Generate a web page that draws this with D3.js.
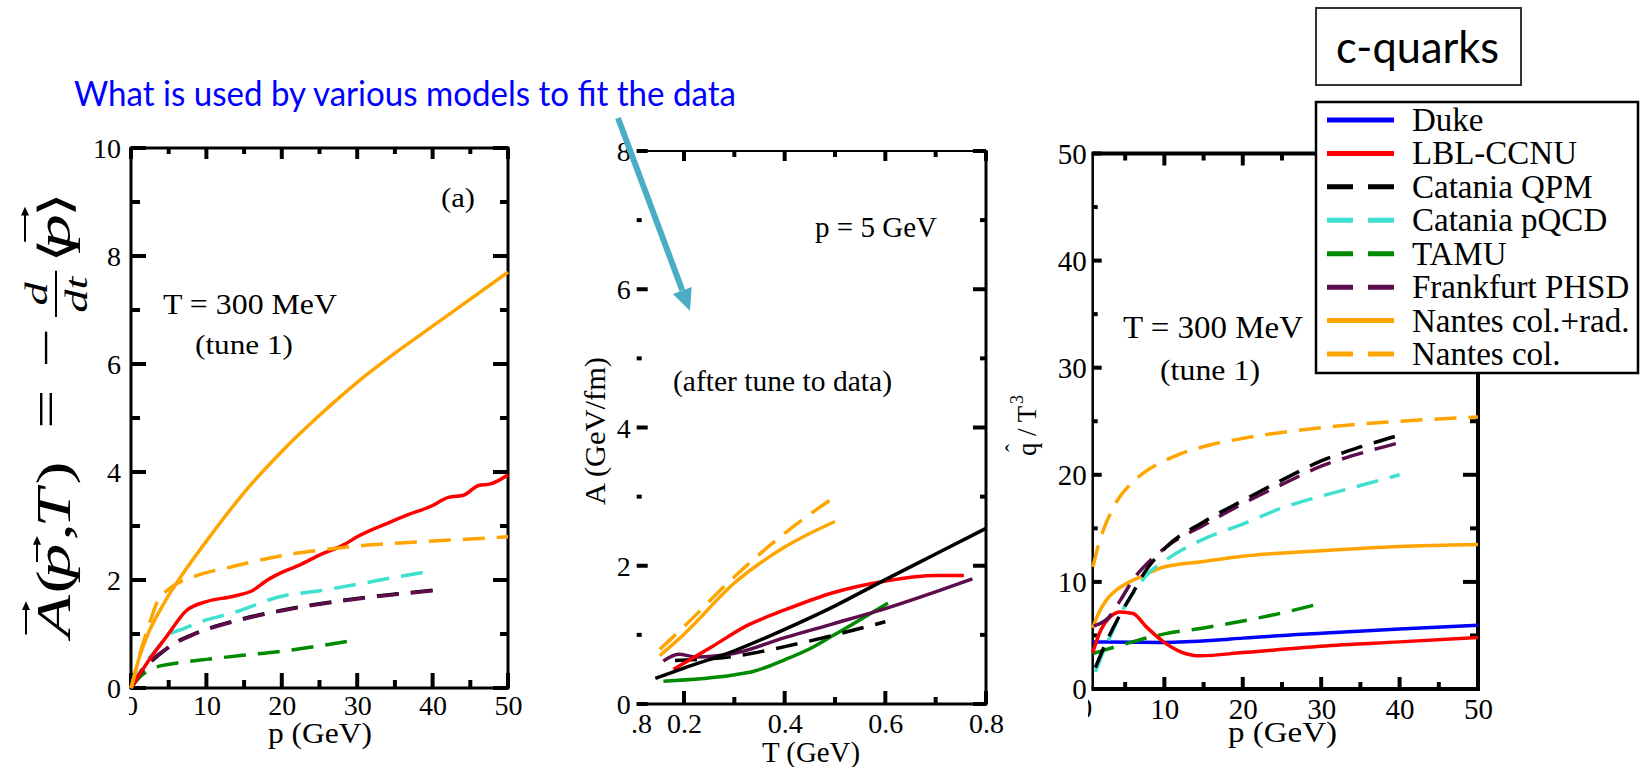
<!DOCTYPE html>
<html>
<head>
<meta charset="utf-8">
<script src="https://cdn.jsdelivr.net/npm/d3@7"></script>
<style>
  body { margin: 0; background: #fff; }
</style>
</head>
<body>
<div id="chart"></div>
<script>
//Datos: [x, y]
//Panel (a): A(p) a T = 300 MeV
const dragNantesRad = [[0,0],[1,0.52],[2.1,0.95],[3.85,1.44],[5.6,1.85],[7.4,2.22],[10,2.72],[15,3.62],[20,4.38],[25,5.05],[30,5.66],[35,6.2],[40,6.7],[45,7.2],[50,7.7]];
const dragNantesCol = [[0,0],[0.6,0.3],[1.2,0.64],[2.3,1.13],[3.4,1.57],[5.2,1.85],[8.3,2.06],[13.5,2.25],[20,2.45],[25,2.55],[30,2.63],[35,2.68],[40,2.72],[45,2.76],[50,2.8]];
const dragLBL = [[0,0],[1,0.22],[2.1,0.46],[4.7,0.95],[7.4,1.44],[10,1.6],[13.6,1.7],[16.2,1.81],[18,1.99],[20,2.14],[22.4,2.28],[25.1,2.47],[28.2,2.65],[30,2.8],[34,3.05],[36.6,3.2],[40,3.38],[42.1,3.53],[44.1,3.57],[46.1,3.75],[47.7,3.78],[50,3.95]];
const dragPQCD = [[0,0],[1,0.25],[2,0.48],[3,0.65],[5,0.98],[7,1.1],[10,1.26],[13.5,1.39],[20,1.7],[25,1.8],[30,1.92],[35,2.05],[40,2.17]];
const dragQPM = [[0,0],[1,0.22],[2,0.4],[3,0.53],[4.5,0.7],[6.1,0.86],[8,0.98],[10,1.09],[14.5,1.27],[20,1.44],[25,1.56],[30,1.66],[35,1.74],[40,1.81]];
const dragPHSD = [[0,0],[1,0.24],[2,0.42],[3,0.55],[4.5,0.71],[6.1,0.85],[8,0.97],[10,1.08],[14.5,1.26],[20,1.43],[25,1.55],[30,1.65],[35,1.73],[40,1.8]];
const dragTAMU = [[0,0],[1.2,0.21],[2,0.3],[3.4,0.39],[6,0.46],[10,0.53],[14.5,0.6],[20,0.68],[25,0.78],[30,0.89]];

//Panel central: A(T) a p = 5 GeV
const tNantesCol = [[0.152,0.79],[0.2,1.12],[0.3,1.84],[0.4,2.47],[0.49,2.95]];
const tNantesRad = [[0.152,0.7],[0.2,1.01],[0.3,1.75],[0.4,2.27],[0.5,2.64]];
const tLBL = [[0.179,0.5],[0.258,0.84],[0.324,1.13],[0.4,1.36],[0.496,1.61],[0.601,1.78],[0.7,1.86],[0.756,1.86]];
const tBlack = [[0.143,0.37],[0.2,0.52],[0.3,0.77],[0.4,1.08],[0.5,1.42],[0.6,1.8],[0.7,2.17],[0.8,2.54]];
const tQPM = [[0.182,0.63],[0.3,0.69],[0.4,0.83],[0.5,1.0],[0.6,1.19]];
const tPHSD = [[0.159,0.62],[0.189,0.72],[0.225,0.68],[0.298,0.73],[0.4,0.96],[0.496,1.16],[0.6,1.38],[0.773,1.81]];
const tTAMU = [[0.159,0.33],[0.298,0.42],[0.337,0.47],[0.4,0.64],[0.45,0.8],[0.496,0.99],[0.605,1.46]];

//Panel derecho: qhat/T^3 a T = 300 MeV
const qDuke = [[0.86,4.4],[10,4.35],[16.4,4.55],[20,4.75],[30,5.2],[40,5.6],[50,5.95]];
const qLBL = [[0.86,3.4],[1.9,5.5],[3.1,6.75],[4.4,7.2],[6,7.05],[7.7,5.8],[9.9,4.4],[12,3.5],[14.6,3.1],[20,3.4],[30,4.0],[40,4.4],[50,4.8]];
const qQPM = [[1.2,2.0],[2.6,4.4],[4.4,7.0],[6,9.0],[7.4,10.8],[10.3,13.3],[15,15.6],[20,17.6],[25,19.5],[30,21.3],[35,22.6],[40,23.7]];
const qPQCD = [[1.2,1.6],[2,3.1],[3.1,4.9],[4.4,7.0],[5.7,8.6],[7.7,10.6],[10.3,12.1],[15,14.0],[20,15.4],[25,16.9],[30,18.0],[35,19.0],[40,20.0]];
const qTAMU = [[0.86,3.3],[5.2,4.25],[10,5.15],[15,5.7],[20,6.35],[25,7.1],[30,8.0]];
const qPHSD = [[1,5.9],[2.8,6.6],[4.4,8.3],[6,10.2],[8.2,12.0],[10.3,13.3],[15,15.3],[20,17.3],[25,19.1],[30,20.8],[35,22.0],[40,23.0]];
const qNantesRad = [[0.86,5.7],[1.5,6.9],[2.6,8.3],[3.8,9.2],[5.2,9.86],[7.4,10.6],[9.5,11.3],[15,11.9],[20,12.4],[30,12.9],[40,13.3],[50,13.5]];
const qNantesCol = [[0.9,11.4],[1.5,13.2],[2.3,15.0],[3.2,16.5],[4,17.6],[5.5,19.0],[7.4,20.2],[11.2,21.7],[15.9,22.8],[20,23.4],[30,24.4],[40,25.0],[50,25.4]];

//Leyenda
const legendNames = ['Duke','LBL-CCNU','Catania QPM','Catania pQCD','TAMU','Frankfurt PHSD','Nantes col.+rad.','Nantes col.'];
const legendColors = ['#0000ff','#ff0000','#000000','#40e0d0','#008a00','#5e0d4c','#ffa500','#ffa500'];
const legendDashed = [false,false,true,true,true,true,false,true];

//Ticks
const p1Major = [0,10,20,30,40,50], p1Minor = [5,15,25,35,45];
const a1Major = [0,2,4,6,8,10], a1Minor = [1,3,5,7,9];
const t2Major = [0.2,0.4,0.6,0.8], t2Minor = [0.3,0.5,0.7];
const a2Major = [0,2,4,6,8], a2Minor = [1,3,5,7];
const p3Major = [10,20,30,40,50], p3Minor = [5,15,25,35,45];
const q3Major = [0,10,20,30,40,50], q3Minor = [5,15,25,35,45];

const SERIF = '"Liberation Serif","Times New Roman",serif';
const SANS = 'Lato,"Open Sans",sans-serif';
const DASH = '22,12';

let svg = d3.select('#chart').append('svg')
    .attr('width', 1646).attr('height', 767)
    .style('font-family', SERIF);

//Marcas de los ejes hacia dentro
function tickMarks(g, scale, vals, side, pos, len) {
    vals.forEach(function(v) {
        let p = scale(v);
        let l = g.append('line').attr('stroke', '#000').attr('stroke-width', 4);
        if (side === 'bottom') l.attr('x1', p).attr('x2', p).attr('y1', pos).attr('y2', pos - len);
        if (side === 'top') l.attr('x1', p).attr('x2', p).attr('y1', pos).attr('y2', pos + len);
        if (side === 'left') l.attr('x1', pos).attr('x2', pos + len).attr('y1', p).attr('y2', p);
        if (side === 'right') l.attr('x1', pos).attr('x2', pos - len).attr('y1', p).attr('y2', p);
    });
}

//Etiquetas de los ejes con d3
function tickLabels(g, gen, scale, vals, tx, ty, pad, fs) {
    let a = g.append('g').attr('transform', 'translate(' + tx + ',' + ty + ')')
        .call(gen(scale).tickValues(vals).tickSize(0).tickPadding(pad).tickFormat(d3.format('')));
    a.attr('font-family', null).attr('font-size', null);
    a.select('.domain').remove();
    a.selectAll('.tick line').remove();
    a.selectAll('.tick text').attr('fill', '#000').attr('font-size', fs);
    return a;
}

function drawPanel(o) {
    let x = d3.scaleLinear().domain(o.xDomain).range(o.xRange);
    let y = d3.scaleLinear().domain(o.yDomain).range(o.yRange);
    let g = svg.append('g');
    let x0 = o.xRange[0], x1 = o.xRange[1], y0 = o.yRange[0], y1 = o.yRange[1];

    //Marco [arriba, derecha, abajo, izquierda]
    let b = o.border;
    if (b[0]) g.append('line').attr('x1', x0 - b[3] / 2).attr('x2', x1 + b[1] / 2).attr('y1', y1).attr('y2', y1).attr('stroke', '#000').attr('stroke-width', b[0]);
    if (b[1]) g.append('line').attr('x1', x1).attr('x2', x1).attr('y1', y1).attr('y2', y0).attr('stroke', '#000').attr('stroke-width', b[1]);
    if (b[2]) g.append('line').attr('x1', x0 - b[3] / 2).attr('x2', x1 + b[1] / 2).attr('y1', y0).attr('y2', y0).attr('stroke', '#000').attr('stroke-width', b[2]);
    if (b[3]) g.append('line').attr('x1', x0).attr('x2', x0).attr('y1', y1).attr('y2', y0).attr('stroke', '#000').attr('stroke-width', b[3]);

    let tk = o.tick; //[abajo may, abajo men, izq may, izq men, arriba may, arriba men, der may, der men]
    tickMarks(g, x, o.xMajor, 'bottom', y0, tk[0]);
    tickMarks(g, x, o.xMinor, 'bottom', y0, tk[1]);
    tickMarks(g, y, o.yMajor, 'left', x0, tk[2]);
    tickMarks(g, y, o.yMinor, 'left', x0, tk[3]);
    tickMarks(g, x, o.xMajor, 'top', y1, tk[4]);
    tickMarks(g, x, o.xMinor, 'top', y1, tk[5]);
    tickMarks(g, y, o.yMajor, 'right', x1, tk[6]);
    tickMarks(g, y, o.yMinor, 'right', x1, tk[7]);

    tickLabels(g, d3.axisBottom, x, o.xLabels, 0, y0, o.xPad, o.fs);
    tickLabels(g, d3.axisLeft, y, o.yMajor, x0, 0, o.yPad, o.fs)
        .selectAll('.tick text').attr('dy', '0.34em');

    //Curvas
    let line = d3.line()
        .x(function(d) { return x(d[0]); })
        .y(function(d) { return y(d[1]); })
        .curve(d3.curveMonotoneX);
    o.series.forEach(function(s) {
        g.append('path')
            .attr('d', line(s.data))
            .attr('fill', 'none')
            .attr('stroke', s.color)
            .attr('stroke-width', 3.5)
            .attr('stroke-dasharray', s.dash ? DASH : null);
    });
    return {x: x, y: y, g: g};
}

//Panel (a)
let pa = drawPanel({
    xDomain: [0, 50], xRange: [131, 508], yDomain: [0, 10], yRange: [688, 148],
    border: [3, 3, 3, 3], tick: [15, 8, 15, 9, 11, 6, 15, 8],
    xMajor: p1Major, xMinor: p1Minor, yMajor: a1Major, yMinor: a1Minor,
    xLabels: p1Major.slice(1), xPad: 7, yPad: 10, fs: 28,
    series: [
        {data: dragTAMU, color: legendColors[4], dash: true},
        {data: dragPQCD, color: legendColors[3], dash: true},
        {data: dragQPM, color: legendColors[2], dash: true},
        {data: dragPHSD, color: legendColors[5], dash: true},
        {data: dragLBL, color: legendColors[1], dash: false},
        {data: dragNantesCol, color: legendColors[7], dash: true},
        {data: dragNantesRad, color: legendColors[6], dash: false}
    ]
});

//Panel central
let pb = drawPanel({
    xDomain: [0.106, 0.8], xRange: [636.7, 986], yDomain: [0, 8], yRange: [704, 151],
    border: [2, 3, 3, 0], tick: [13, 7, 11, 5, 10, 6, 13, 6],
    xMajor: t2Major, xMinor: t2Minor, yMajor: a2Major, yMinor: a2Minor,
    xLabels: t2Major, xPad: 9, yPad: 6, fs: 28,
    series: [
        {data: tTAMU, color: legendColors[4], dash: false},
        {data: tQPM, color: legendColors[2], dash: true},
        {data: tPHSD, color: legendColors[5], dash: false},
        {data: tLBL, color: legendColors[1], dash: false},
        {data: tBlack, color: legendColors[2], dash: false},
        {data: tNantesCol, color: legendColors[7], dash: true},
        {data: tNantesRad, color: legendColors[6], dash: false}
    ]
});

//Panel derecho
let pc = drawPanel({
    xDomain: [0.86, 50], xRange: [1092.7, 1478], yDomain: [0, 50], yRange: [689, 153.5],
    border: [4, 4, 4, 2.5], tick: [12, 7, 9, 5, 12, 7, 15, 8],
    xMajor: p3Major, xMinor: p3Minor, yMajor: q3Major, yMinor: q3Minor,
    xLabels: p3Major, xPad: 9, yPad: 6, fs: 29,
    series: [
        {data: qDuke, color: legendColors[0], dash: false},
        {data: qTAMU, color: legendColors[4], dash: true},
        {data: qLBL, color: legendColors[1], dash: false},
        {data: qNantesRad, color: legendColors[6], dash: false},
        {data: qPQCD, color: legendColors[3], dash: true},
        {data: qPHSD, color: legendColors[5], dash: true},
        {data: qQPM, color: legendColors[2], dash: true},
        {data: qNantesCol, color: legendColors[7], dash: true}
    ]
});

//Etiquetas "0" recortadas del eje x
let defs = svg.append('defs');
defs.append('clipPath').attr('id', 'cutA').append('rect').attr('x', 129).attr('y', 690).attr('width', 30).attr('height', 40);
defs.append('clipPath').attr('id', 'cutC').append('rect').attr('x', 1088).attr('y', 690).attr('width', 30).attr('height', 40);
svg.append('text').attr('x', pa.x(0)).attr('y', 715).attr('text-anchor', 'middle').attr('font-size', 28).attr('clip-path', 'url(#cutA)').text('0');
svg.append('text').attr('x', 1085).attr('y', 718).attr('text-anchor', 'middle').attr('font-size', 29).attr('clip-path', 'url(#cutC)').text('0');
svg.append('text').attr('x', 652).attr('y', 733).attr('text-anchor', 'end').attr('font-size', 28).text('.8');

function label(txt, x, y, fs, len, anchor, fam) {
    let t = svg.append('text').attr('x', x).attr('y', y).attr('font-size', fs)
        .attr('text-anchor', anchor || 'start').text(txt);
    if (fam) t.style('font-family', fam);
    if (len) t.attr('textLength', len).attr('lengthAdjust', 'spacingAndGlyphs');
    return t;
}

//Textos panel (a)
label('(a)', 441, 207, 28, 34);
label('T = 300 MeV', 163, 314, 30, 174);
label('(tune 1)', 195, 354, 28, 98);
label('p (GeV)', 268, 743, 29, 104);

//Formula eje y panel (a)
let f = svg.append('g').attr('transform', 'translate(70,637.5) rotate(-90) scale(1.45,1)').style('font-style', 'italic');
function fpart(txt, x, y, fs, upright) {
    let t = f.append('text').attr('x', x).attr('y', y).attr('font-size', fs).text(txt);
    if (upright) t.style('font-style', 'normal');
    return t;
}
fpart('A', 0, 0, 48);
fpart('(', 30.3, 0, 48, true);
fpart('p', 40.7, 0, 48);
fpart(',', 66.9, 0, 48, true);
fpart('T', 75.9, 0, 48);
fpart(')', 105.5, 0, 48, true);
fpart('=', 144, -8, 48, true);
fpart('\u2212', 186, -8, 48, true);
fpart('d', 229, -23, 32);
fpart('dt', 224, 17, 32);
f.append('line').attr('x1', 221).attr('x2', 253).attr('y1', -14).attr('y2', -14).attr('stroke', '#000').attr('stroke-width', 2);
fpart('\u27E8', 258, 0, 44, true);
fpart('p', 268, 0, 48);
fpart('\u27E9', 290, 0, 44, true);
function farrow(xa, xb, yy) {
    f.append('line').attr('x1', xa).attr('x2', xb - 2).attr('y1', yy).attr('y2', yy).attr('stroke', '#000').attr('stroke-width', 2);
    f.append('path').attr('d', 'M' + xb + ',' + yy + 'l-6,-4l0,8z').attr('fill', '#000');
}
farrow(2, 25, -44);
farrow(52, 70, -33);
farrow(273, 297, -45);

//Textos panel central
label('p = 5 GeV', 815, 237, 29, 122);
label('(after tune to data)', 673, 391, 29, 219);
label('T (GeV)', 762, 762, 30, 98);
svg.append('text').attr('transform', 'translate(605,431) rotate(-90)').attr('text-anchor', 'middle')
    .attr('font-size', 30).attr('textLength', 148).attr('lengthAdjust', 'spacingAndGlyphs').text('A (GeV/fm)');

//Textos panel derecho
label('T = 300 MeV', 1123, 338, 31, 180);
label('(tune 1)', 1160, 380, 29, 100);
label('p (GeV)', 1228, 742, 29, 109);
let ql = svg.append('g').attr('transform', 'translate(1036,456) rotate(-90)');
ql.append('text').attr('x', 0).attr('y', 0).attr('font-size', 27)
    .attr('textLength', 50).attr('lengthAdjust', 'spacingAndGlyphs').text('q / T');
ql.append('text').attr('x', 52).attr('y', -13).attr('font-size', 18).text('3');
ql.append('text').attr('x', 4).attr('y', -14).attr('font-size', 24).text('\u02C6');

//Leyenda
svg.append('rect').attr('x', 1316).attr('y', 102).attr('width', 322).attr('height', 271)
    .attr('fill', '#fff').attr('stroke', '#000').attr('stroke-width', 2.5);
let legY = d3.scaleLinear().domain([0, legendNames.length - 1]).range([120, 354]);
legendNames.forEach(function(n, i) {
    svg.append('line').attr('x1', 1327).attr('x2', 1394).attr('y1', legY(i)).attr('y2', legY(i))
        .attr('stroke', legendColors[i]).attr('stroke-width', 5)
        .attr('stroke-dasharray', legendDashed[i] ? '26,15' : null);
    svg.append('text').attr('x', 1412).attr('y', legY(i) + 11).attr('font-size', 33).text(n);
});

//Caja c-quarks
svg.append('rect').attr('x', 1316).attr('y', 8).attr('width', 205).attr('height', 77)
    .attr('fill', '#fff').attr('stroke', '#333').attr('stroke-width', 2);
label('c-quarks', 1336, 63, 44, 163, 'start', SANS);

//Titulo azul y flecha
label('What is used by various models to fit the data', 74, 106, 34, 662, 'start', SANS).attr('fill', '#0000ff');
let ax0 = 618, ay0 = 118, ax1 = 690, ay1 = 311;
let ang = Math.atan2(ay1 - ay0, ax1 - ax0);
let hl = 22, hw = 10;
let bx0 = ax1 - hl * Math.cos(ang), by0 = ay1 - hl * Math.sin(ang);
svg.append('line').attr('x1', ax0).attr('y1', ay0).attr('x2', bx0).attr('y2', by0)
    .attr('stroke', '#4bacc6').attr('stroke-width', 6);
svg.append('path')
    .attr('d', 'M' + ax1 + ',' + ay1 +
        'L' + (bx0 + hw * Math.sin(ang)) + ',' + (by0 - hw * Math.cos(ang)) +
        'L' + (bx0 - hw * Math.sin(ang)) + ',' + (by0 + hw * Math.cos(ang)) + 'Z')
    .attr('fill', '#4bacc6');
</script>
</body>
</html>
